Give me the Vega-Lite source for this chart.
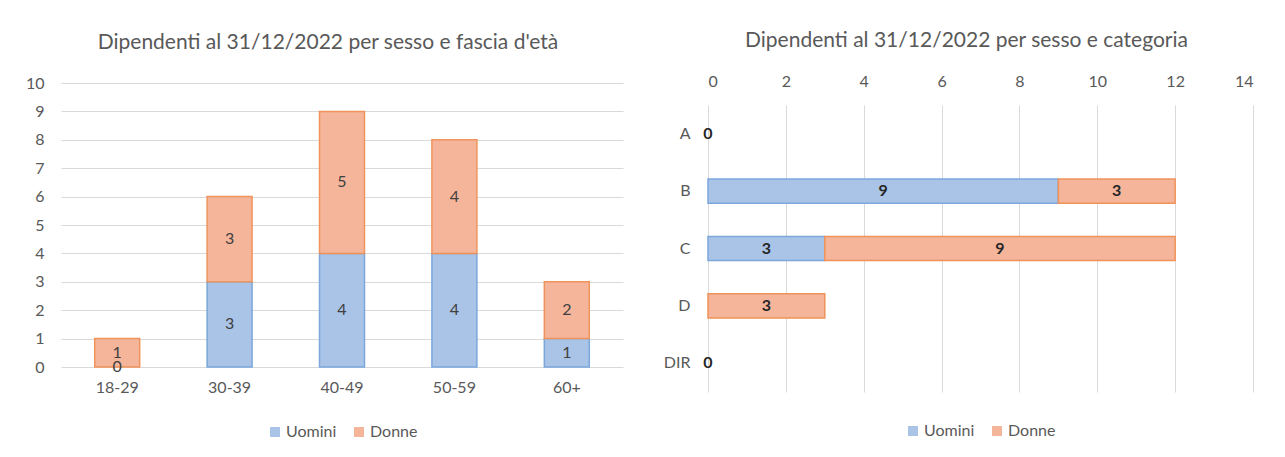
{
  "$schema": "https://vega.github.io/schema/vega-lite/v6.json",
  "background": "white",
  "padding": {"left": 25, "top": 30, "right": 5, "bottom": 5},
  "spacing": 40,
  "datasets": {
    "eta": [
      {"fascia": "18-29", "sesso": "Uomini", "n": 0},
      {"fascia": "18-29", "sesso": "Donne", "n": 1},
      {"fascia": "30-39", "sesso": "Uomini", "n": 3},
      {"fascia": "30-39", "sesso": "Donne", "n": 3},
      {"fascia": "40-49", "sesso": "Uomini", "n": 4},
      {"fascia": "40-49", "sesso": "Donne", "n": 5},
      {"fascia": "50-59", "sesso": "Uomini", "n": 4},
      {"fascia": "50-59", "sesso": "Donne", "n": 4},
      {"fascia": "60+", "sesso": "Uomini", "n": 1},
      {"fascia": "60+", "sesso": "Donne", "n": 2}
    ],
    "cat": [
      {"categoria": "A", "sesso": "Uomini", "n": 0},
      {"categoria": "B", "sesso": "Uomini", "n": 9},
      {"categoria": "B", "sesso": "Donne", "n": 3},
      {"categoria": "C", "sesso": "Uomini", "n": 3},
      {"categoria": "C", "sesso": "Donne", "n": 9},
      {"categoria": "D", "sesso": "Donne", "n": 3},
      {"categoria": "DIR", "sesso": "Uomini", "n": 0}
    ]
  },
  "resolve": {"scale": {"color": "independent"}},
  "hconcat": [
    {
      "width": 562,
      "height": 262,
      "title": {"text": "Dipendenti al 31/12/2022 per sesso e fascia d'età", "offset": 22, "dx": -14},
      "data": {"name": "eta"},
      "layer": [
        {
          "transform": [{"filter": "datum.n > 0"}],
          "mark": {"type": "bar", "strokeWidth": 1.5},
          "encoding": {
            "x": {"field": "fascia", "type": "nominal", "sort": null,
                  "scale": {"paddingInner": 0.6},
                  "axis": {"title": null, "labelAngle": 0, "domain": false, "ticks": false, "labelPadding": 12, "grid": false}},
            "y": {"field": "n", "type": "quantitative", "stack": "zero",
                  "scale": {"domain": [0, 10], "nice": false, "range": [262, -22]},
                  "axis": {"title": null, "values": [0,1,2,3,4,5,6,7,8,9,10], "tickCount": 20, "format": "d", "labelOverlap": false, "domain": false, "ticks": false, "labelPadding": 17}},
            "color": {"field": "sesso", "type": "nominal", "sort": "descending",
                      "scale": {"domain": ["Uomini", "Donne"], "range": ["#A9C4E6", "#F5B59B"]},
                      "legend": {"title": null, "orient": "bottom", "direction": "horizontal", "offset": 29}},
            "stroke": {"field": "sesso", "type": "nominal", "sort": "descending",
                       "scale": {"domain": ["Uomini", "Donne"], "range": ["#7BA7DB", "#F0935A"]},
                       "legend": null},
            "order": {"field": "sesso", "sort": "descending"}
          }
        },
        {
          "mark": {"type": "text", "fontSize": 16, "color": "#404040", "baseline": "middle"},
          "encoding": {
            "x": {"field": "fascia", "type": "nominal", "sort": null},
            "y": {"field": "n", "type": "quantitative", "stack": "zero", "bandPosition": 0.5,
                  "axis": {"title": null, "values": [0,1,2,3,4,5,6,7,8,9,10], "tickCount": 20, "format": "d", "labelOverlap": false, "domain": false, "ticks": false, "labelPadding": 17}},
            "detail": {"field": "sesso"},
            "order": {"field": "sesso", "sort": "descending"},
            "text": {"field": "n", "type": "quantitative"}
          }
        }
      ]
    },
    {
      "width": 545,
      "height": 287,
      "title": {"text": "Dipendenti al 31/12/2022 per sesso e categoria", "offset": 22, "dx": -14},
      "data": {"name": "cat"},
      "layer": [
        {
          "transform": [{"filter": "datum.n > 0"}],
          "mark": {"type": "bar", "strokeWidth": 1.5},
          "encoding": {
            "y": {"field": "categoria", "type": "nominal", "sort": ["A", "B", "C", "D", "DIR"],
                  "scale": {"domain": ["A", "B", "C", "D", "DIR"], "paddingInner": 0.58},
                  "axis": {"title": null, "domain": false, "ticks": false, "labelPadding": 18, "grid": false}},
            "x": {"field": "n", "type": "quantitative", "stack": "zero",
                  "scale": {"domain": [0, 14], "nice": false},
                  "axis": {"title": null, "orient": "top", "values": [0,2,4,6,8,10,12,14], "tickCount": 20, "format": "d", "domain": false, "ticks": false, "labelPadding": 16}},
            "color": {"field": "sesso", "type": "nominal", "sort": "descending",
                      "scale": {"domain": ["Uomini", "Donne"], "range": ["#A9C4E6", "#F5B59B"]},
                      "legend": {"title": null, "orient": "bottom", "direction": "horizontal", "offset": 31}},
            "stroke": {"field": "sesso", "type": "nominal", "sort": "descending",
                       "scale": {"domain": ["Uomini", "Donne"], "range": ["#7BA7DB", "#F0935A"]},
                       "legend": null},
            "order": {"field": "sesso", "sort": "descending"}
          }
        },
        {
          "mark": {"type": "text", "fontSize": 16, "fontWeight": "bold", "color": "#262626", "baseline": "middle"},
          "encoding": {
            "y": {"field": "categoria", "type": "nominal", "sort": ["A", "B", "C", "D", "DIR"]},
            "x": {"field": "n", "type": "quantitative", "stack": "zero", "bandPosition": 0.5},
            "detail": {"field": "sesso"},
            "order": {"field": "sesso", "sort": "descending"},
            "text": {"field": "n", "type": "quantitative"}
          }
        }
      ]
    }
  ],
  "config": {
    "font": "Lato",
    "view": {"stroke": null},
    "title": {"fontSize": 21, "fontWeight": "normal", "color": "#595959", "anchor": "middle", "font": "Lato"},
    "axis": {"labelFontSize": 16, "labelColor": "#595959", "gridColor": "#D9D9D9", "gridWidth": 1, "labelFont": "Lato"},
    "legend": {"labelFontSize": 16, "labelColor": "#595959", "symbolType": "square", "symbolSize": 100, "symbolStrokeWidth": 1.5, "columnPadding": 14, "labelOffset": 3, "layout": {"bottom": {"anchor": "middle"}}}
  }
}
